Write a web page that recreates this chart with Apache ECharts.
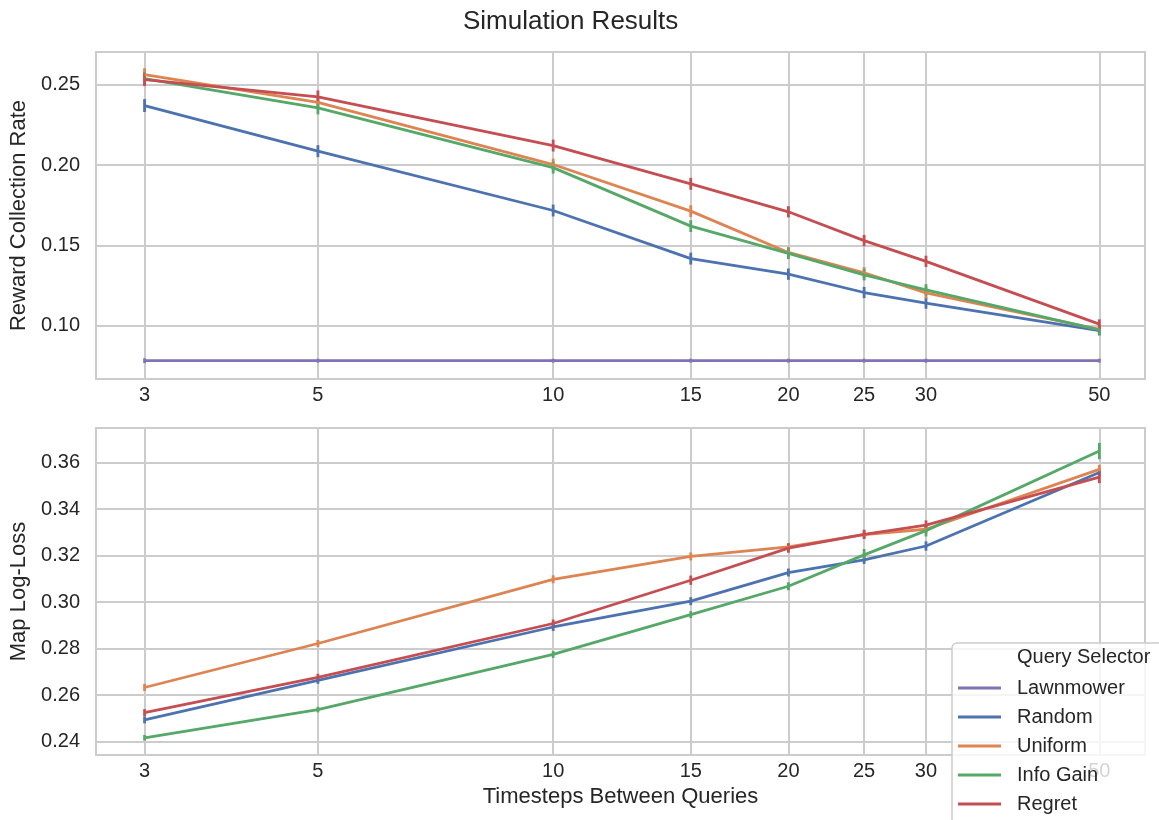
<!DOCTYPE html>
<html>
<head>
<meta charset="utf-8">
<script src="https://cdn.jsdelivr.net/npm/echarts@6/dist/echarts.min.js"></script>
<style>
html, body { margin: 0; padding: 0; background: #fff; }
#Mycharts { width: 1159px; height: 820px; }
</style>
</head>
<body>
<div id="Mycharts"></div>
<script>
// x values (log axis) and tick labels
const timesteps = [3, 5, 10, 15, 20, 25, 30, 50]
const selectors = ['Lawnmower', 'Random', 'Uniform', 'Info Gain', 'Regret']
const colors = ['#8172b3', '#4c72b0', '#dd8452', '#55a868', '#c44e52']
const rewardTicks = [0.10, 0.15, 0.20, 0.25]
const lossTicks = [0.24, 0.26, 0.28, 0.30, 0.32, 0.34, 0.36]

// Reward Collection Rate
const rewardLawnmower = [0.0783, 0.0783, 0.0783, 0.0783, 0.0783, 0.0783, 0.0783, 0.0783]
const rewardRandom = [0.2370, 0.2086, 0.1717, 0.1418, 0.1321, 0.1207, 0.1141, 0.0970]
const rewardUniform = [0.2562, 0.2390, 0.2003, 0.1713, 0.1456, 0.1330, 0.1205, 0.0978]
const rewardInfoGain = [0.2537, 0.2355, 0.1984, 0.1620, 0.1450, 0.1317, 0.1224, 0.0975]
const rewardRegret = [0.2531, 0.2424, 0.2121, 0.1883, 0.1709, 0.1530, 0.1401, 0.1010]
// error bar half widths
const rewardErrLawnmower = [0.0015, 0.0012, 0.0012, 0.0012, 0.0012, 0.0012, 0.0012, 0.0012]
const rewardErrRandom = [0.0040, 0.0037, 0.0037, 0.0037, 0.0035, 0.0035, 0.0035, 0.0030]
const rewardErrUniform = [0.0040, 0.0037, 0.0037, 0.0037, 0.0035, 0.0035, 0.0035, 0.0030]
const rewardErrInfoGain = [0.0040, 0.0040, 0.0037, 0.0037, 0.0035, 0.0035, 0.0035, 0.0030]
const rewardErrRegret = [0.0040, 0.0040, 0.0037, 0.0037, 0.0035, 0.0035, 0.0035, 0.0030]

// Map Log-Loss
const lossRandom = [0.2494, 0.2664, 0.2893, 0.3004, 0.3127, 0.3181, 0.3241, 0.3557]
const lossUniform = [0.2633, 0.2822, 0.3098, 0.3196, 0.3237, 0.3290, 0.3313, 0.3570]
const lossInfoGain = [0.2417, 0.2538, 0.2775, 0.2946, 0.3068, 0.3203, 0.3307, 0.3649]
const lossRegret = [0.2525, 0.2677, 0.2908, 0.3094, 0.3232, 0.3291, 0.3331, 0.3537]
const lossErrRandom = [0.0015, 0.0015, 0.0017, 0.0017, 0.0017, 0.0017, 0.0020, 0.0015]
const lossErrUniform = [0.0015, 0.0015, 0.0017, 0.0017, 0.0017, 0.0017, 0.0017, 0.0020]
const lossErrInfoGain = [0.0012, 0.0012, 0.0015, 0.0015, 0.0017, 0.0025, 0.0025, 0.0035]
const lossErrRegret = [0.0015, 0.0015, 0.0017, 0.0020, 0.0020, 0.0020, 0.0020, 0.0026]

const font = "'Liberation Sans', Arial, sans-serif"
const textColor = '#262626'
const gridColor = '#cccccc'

function lineSeries (idx, name, color, values) {
  return {
    name: name,
    type: 'line',
    xAxisIndex: idx,
    yAxisIndex: idx,
    showSymbol: false,
    symbol: 'none',
    color: color,
    lineStyle: { width: 2.8, color: color },
    data: timesteps.map((t, i) => [t, values[i]]),
    z: 3
  }
}

function errorSeries (idx, name, color, values, errs) {
  return {
    name: name,
    type: 'custom',
    xAxisIndex: idx,
    yAxisIndex: idx,
    data: timesteps.map((t, i) => [t, values[i] - errs[i], values[i] + errs[i]]),
    encode: { x: 0, y: [1, 2] },
    z: 3,
    renderItem (params, api) {
      const lo = api.coord([api.value(0), api.value(1)])
      const hi = api.coord([api.value(0), api.value(2)])
      return {
        type: 'line',
        shape: { x1: lo[0], y1: lo[1], x2: hi[0], y2: hi[1] },
        style: { stroke: color, lineWidth: 2.8 }
      }
    }
  }
}

function xAxis (idx, withName) {
  return {
    type: 'log',
    logBase: 10,
    gridIndex: idx,
    min: 2.6,
    max: 57.2,
    name: withName ? 'Timesteps Between Queries' : '',
    nameLocation: 'middle',
    nameGap: 31,
    nameTextStyle: { fontSize: 22, color: textColor, fontFamily: font },
    axisLine: { show: false },
    axisTick: { show: false, customValues: timesteps },
    minorTick: { show: false },
    minorSplitLine: { show: false },
    axisLabel: {
      customValues: timesteps,
      fontSize: 20,
      color: textColor,
      fontFamily: font,
      margin: 6,
      formatter: v => String(Math.round(v))
    },
    splitLine: { show: true, lineStyle: { color: gridColor, width: 2 } }
  }
}

function yAxis (idx, name, ticks, min, max) {
  return {
    type: 'value',
    gridIndex: idx,
    min: min,
    max: max,
    name: name,
    nameLocation: 'middle',
    nameGap: 66,
    nameTextStyle: { fontSize: 22, color: textColor, fontFamily: font },
    axisLine: { show: false },
    axisTick: { show: false, customValues: ticks },
    axisLabel: {
      customValues: ticks,
      fontSize: 20,
      color: textColor,
      fontFamily: font,
      margin: 16,
      formatter: v => v.toFixed(2)
    },
    splitLine: { show: true, lineStyle: { color: gridColor, width: 2 } }
  }
}

const Mycharts = echarts.init(document.getElementById('Mycharts'))
Mycharts.setOption({
  animation: false,
  backgroundColor: '#ffffff',
  title: {
    text: 'Simulation Results',
    left: 463,
    top: 9,
    padding: 0,
    textStyle: { fontSize: 26, fontWeight: 'normal', color: textColor, fontFamily: font }
  },
  grid: [
    { left: 93, right: 14, top: 52, height: 327, show: true, borderColor: gridColor, borderWidth: 2 },
    { left: 93, right: 14, top: 428, height: 327, show: true, borderColor: gridColor, borderWidth: 2 }
  ],
  xAxis: [xAxis(0, false), xAxis(1, true)],
  yAxis: [
    yAxis(0, 'Reward Collection Rate', rewardTicks, 0.0669, 0.2703),
    yAxis(1, 'Map Log-Loss', lossTicks, 0.2343, 0.3748)
  ],
  legend: {
    data: selectors,
    orient: 'vertical',
    left: 952,
    top: 643,
    height: 220,
    icon: 'rect',
    itemWidth: 43,
    itemHeight: 3,
    itemGap: 7,
    padding: [34, 40, 20, 6],
    backgroundColor: 'rgba(255,255,255,0.8)',
    borderColor: gridColor,
    borderWidth: 1.5,
    borderRadius: 5,
    selectedMode: false,
    textStyle: { fontSize: 20, color: textColor, fontFamily: font, lineHeight: 22, padding: [0, 0, 0, 11] }
  },
  graphic: [{
    type: 'text',
    left: 1017,
    top: 647,
    z: 100,
    style: { text: 'Query Selector', fontSize: 20, fill: textColor, fontFamily: font }
  }],
  series: [
    lineSeries(0, 'Lawnmower', colors[0], rewardLawnmower),
    lineSeries(0, 'Random', colors[1], rewardRandom),
    lineSeries(0, 'Uniform', colors[2], rewardUniform),
    lineSeries(0, 'Info Gain', colors[3], rewardInfoGain),
    lineSeries(0, 'Regret', colors[4], rewardRegret),
    lineSeries(1, 'Random', colors[1], lossRandom),
    lineSeries(1, 'Uniform', colors[2], lossUniform),
    lineSeries(1, 'Info Gain', colors[3], lossInfoGain),
    lineSeries(1, 'Regret', colors[4], lossRegret),
    errorSeries(0, 'Lawnmower', colors[0], rewardLawnmower, rewardErrLawnmower),
    errorSeries(0, 'Random', colors[1], rewardRandom, rewardErrRandom),
    errorSeries(0, 'Uniform', colors[2], rewardUniform, rewardErrUniform),
    errorSeries(0, 'Info Gain', colors[3], rewardInfoGain, rewardErrInfoGain),
    errorSeries(0, 'Regret', colors[4], rewardRegret, rewardErrRegret),
    errorSeries(1, 'Random', colors[1], lossRandom, lossErrRandom),
    errorSeries(1, 'Uniform', colors[2], lossUniform, lossErrUniform),
    errorSeries(1, 'Info Gain', colors[3], lossInfoGain, lossErrInfoGain),
    errorSeries(1, 'Regret', colors[4], lossRegret, lossErrRegret)
  ]
})
</script>
</body>
</html>
